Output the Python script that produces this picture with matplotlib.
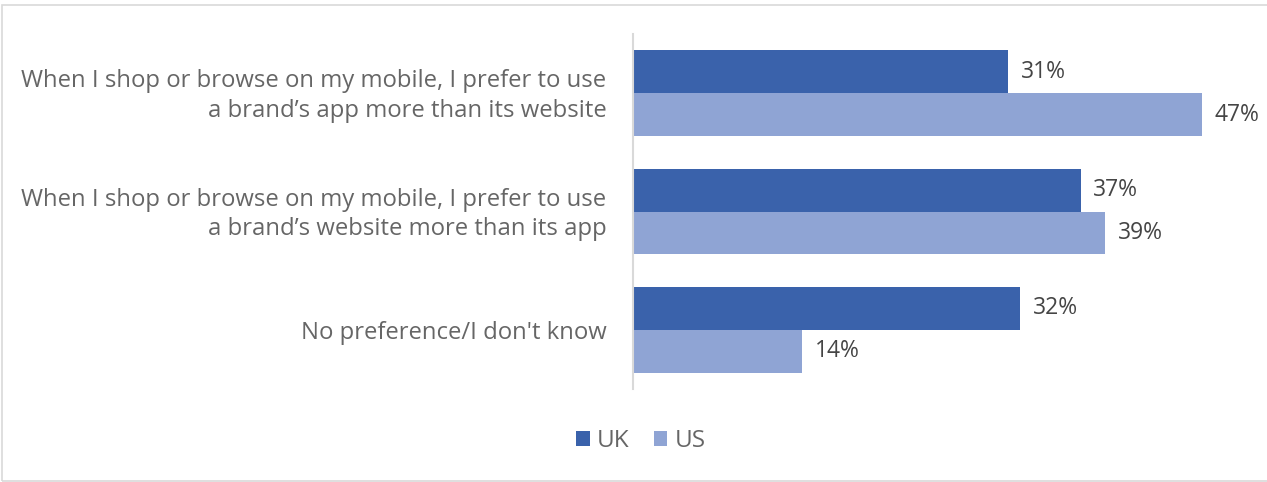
import matplotlib
matplotlib.use("Agg")
import matplotlib.pyplot as plt
from matplotlib.patches import Rectangle
from matplotlib.transforms import ScaledTranslation

categories = [
    "When I shop or browse on my mobile, I prefer to use\na brand\u2019s app more than its website",
    "When I shop or browse on my mobile, I prefer to use\na brand\u2019s website more than its app",
    "No preference/I don't know",
]
uk = [31, 37, 32]
us = [47, 39, 14]
series_names = ["UK", "US"]
colors = ["#3a62ab", "#8fa4d4"]
label_color = "#666666"
value_color = "#454545"

plt.rcParams["font.family"] = ["Open Sans", "DejaVu Sans"]

W, H = 1267, 482
fig = plt.figure(figsize=(W / 100, H / 100), dpi=100)

# axes placed in pixel terms
x0, x1 = 633, 1238
ytop, ybot = 34, 389
ax = fig.add_axes([x0 / W, 1 - ybot / H, (x1 - x0) / W, (ybot - ytop) / H])

bar_h = 0.363
n = len(categories)
ys = list(range(n))
for i, (vals, name, c) in enumerate(zip([uk, us], series_names, colors)):
    offs = -bar_h / 2 if i == 0 else bar_h / 2
    pos = [y + offs for y in ys]
    ax.barh(pos, vals, height=bar_h, color=c, label=name, linewidth=0)
    for p, v in zip(pos, vals):
        ax.text(v + 1.05, p, f"{v}%", va="center", ha="left",
                fontsize=16.5, color=value_color)

ax.set_ylim(n - 0.5, -0.5)
ax.set_xlim(0, 50)
ax.set_yticks(ys)
ax.set_yticklabels(categories, fontsize=17.2, color=label_color, ha="right",
                   multialignment="right", linespacing=1.32)
ax.tick_params(axis="y", length=0, pad=19)
# nudge the two-line labels up slightly
for lbl in ax.get_yticklabels():
    if "\n" in lbl.get_text():
        lbl.set_transform(lbl.get_transform()
                          + ScaledTranslation(0, 3 / 100, fig.dpi_scale_trans))
ax.set_xticks([])
for s in ["top", "right", "bottom"]:
    ax.spines[s].set_visible(False)
ax.spines["left"].set_color("#d9d9d9")
ax.spines["left"].set_linewidth(1.5)

handles, labels = ax.get_legend_handles_labels()
fig.legend(handles, labels, loc="center", bbox_to_anchor=(641 / W, 1 - 441 / H),
           ncol=2, frameon=False, labelcolor=label_color,
           prop={"size": 17.5},
           handlelength=0.55, handleheight=0.55, handletextpad=0.3,
           columnspacing=1.0)

# chart-area border
fig.patches.append(Rectangle((2 / W, 1 - 481 / H), 1.2, (481 - 5) / H,
                             transform=fig.transFigure, fill=False,
                             edgecolor="#d9d9d9", linewidth=1.2))

fig.savefig("out.png", dpi=100)
